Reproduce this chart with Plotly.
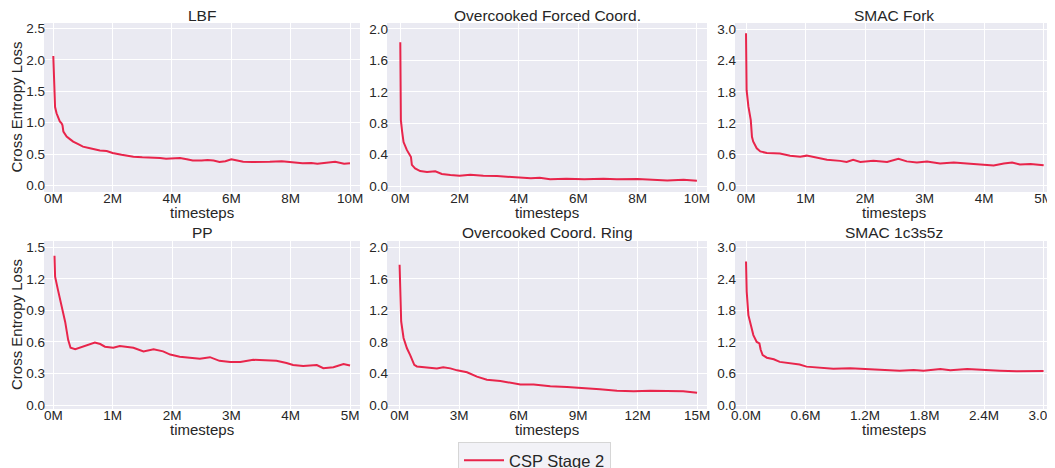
import plotly.graph_objects as go

# ---------------- data (x in millions of timesteps) ----------------
titles = ["LBF", "Overcooked Forced Coord.", "SMAC Fork",
          "PP", "Overcooked Coord. Ring", "SMAC 1c3s5z"]
series_name = "CSP Stage 2"
x_label = "timesteps"
y_label = "Cross Entropy Loss"

lbf_x = [0.0, 0.02, 0.03, 0.06, 0.11, 0.16, 0.22, 0.28, 0.31, 0.34, 0.45, 0.56, 0.67, 0.84, 1.0, 1.2, 1.4, 1.57, 1.8, 2.0,
         2.3, 2.7, 3.0, 3.37, 3.6, 3.8, 4.0, 4.27, 4.5, 4.7, 5.0, 5.2, 5.4, 5.6, 5.8, 6.0, 6.2, 6.4, 6.7, 7.0,
         7.3, 7.7, 8.0, 8.2, 8.4, 8.7, 8.9, 9.2, 9.5, 9.8, 10.0]
lbf_y = [2.06, 1.75, 1.41, 1.25, 1.15, 1.08, 1.02, 0.99, 0.96, 0.86, 0.78, 0.74, 0.70, 0.66, 0.62, 0.60, 0.58, 0.56, 0.55, 0.52,
         0.49, 0.46, 0.45, 0.45, 0.44, 0.43, 0.43, 0.44, 0.42, 0.40, 0.40, 0.41, 0.40, 0.375, 0.39, 0.42, 0.40, 0.38, 0.375, 0.375,
         0.38, 0.39, 0.375, 0.36, 0.355, 0.36, 0.35, 0.365, 0.38, 0.35, 0.355]

ofc_x = [0.0, 0.02, 0.06, 0.11, 0.22, 0.31, 0.36, 0.39, 0.5, 0.67, 0.9, 1.18, 1.4, 1.69, 2.0, 2.36, 2.8, 3.26, 3.6, 3.9,
         4.4, 4.7, 5.05, 5.6, 6.2, 6.85, 7.3, 8.0, 8.4, 9.0, 9.55, 10.0]
ofc_y = [1.83, 0.84, 0.70, 0.56, 0.46, 0.39, 0.37, 0.27, 0.225, 0.19, 0.18, 0.187, 0.153, 0.14, 0.13, 0.145, 0.13, 0.127, 0.12, 0.11,
         0.098, 0.106, 0.085, 0.093, 0.085, 0.093, 0.085, 0.09, 0.08, 0.072, 0.08, 0.068]

sf_x = [0.0, 0.01, 0.04, 0.08, 0.1, 0.12, 0.18, 0.24, 0.35, 0.57, 0.74, 0.91, 1.02, 1.13, 1.36, 1.58, 1.69, 1.8, 1.92, 2.14,
        2.37, 2.56, 2.7, 2.87, 3.04, 3.26, 3.49, 3.71, 3.93, 4.16, 4.33, 4.47, 4.6, 4.78, 5.0]
sf_y = [2.92, 1.83, 1.52, 1.26, 0.94, 0.85, 0.72, 0.66, 0.63, 0.62, 0.58, 0.56, 0.58, 0.55, 0.50, 0.48, 0.46, 0.50, 0.46, 0.48,
        0.46, 0.52, 0.47, 0.45, 0.47, 0.43, 0.45, 0.43, 0.41, 0.39, 0.43, 0.45, 0.41, 0.42, 0.395]

pp_x = [0.02, 0.03, 0.08, 0.14, 0.2, 0.25, 0.29, 0.37, 0.45, 0.56, 0.7, 0.79, 0.87, 1.01, 1.12, 1.35, 1.52, 1.69, 1.85, 1.97,
        2.13, 2.3, 2.47, 2.64, 2.8, 2.98, 3.15, 3.37, 3.6, 3.76, 3.93, 4.04, 4.21, 4.44, 4.55, 4.72, 4.89, 5.0]
pp_y = [1.42, 1.22, 1.09, 0.95, 0.79, 0.62, 0.545, 0.53, 0.545, 0.57, 0.595, 0.58, 0.555, 0.545, 0.56, 0.545, 0.51, 0.53, 0.51, 0.48,
        0.46, 0.45, 0.44, 0.455, 0.42, 0.41, 0.41, 0.43, 0.42, 0.42, 0.40, 0.38, 0.37, 0.38, 0.35, 0.36, 0.39, 0.375]

ocr_x = [0.0, 0.03, 0.08, 0.2, 0.37, 0.54, 0.62, 0.74, 0.87, 1.38, 1.88, 2.2, 2.56, 2.9, 3.4, 3.9, 4.4, 5.08, 5.58, 6.09,
         6.76, 7.6, 8.44, 9.28, 10.1, 10.96, 11.8, 12.65, 13.5, 14.3, 15.0]
ocr_y = [1.78, 1.35, 1.06, 0.85, 0.72, 0.63, 0.59, 0.51, 0.49, 0.48, 0.465, 0.48, 0.465, 0.44, 0.415, 0.36, 0.32, 0.305, 0.285, 0.26,
         0.26, 0.24, 0.23, 0.21, 0.20, 0.18, 0.175, 0.18, 0.18, 0.175, 0.155]

s1_x = [0.0, 0.007, 0.024, 0.047, 0.074, 0.108, 0.135, 0.148, 0.168, 0.21, 0.28, 0.34, 0.44, 0.54, 0.61, 0.71, 0.88, 1.05, 1.22, 1.39,
        1.55, 1.69, 1.79, 1.96, 2.06, 2.23, 2.39, 2.56, 2.73, 2.9, 3.0]
s1_y = [2.73, 2.16, 1.71, 1.52, 1.33, 1.20, 1.17, 1.05, 0.95, 0.90, 0.87, 0.82, 0.79, 0.77, 0.73, 0.71, 0.69, 0.70, 0.685, 0.665,
        0.653, 0.665, 0.653, 0.685, 0.66, 0.685, 0.665, 0.653, 0.64, 0.647, 0.647]

xs = [lbf_x, ofc_x, sf_x, pp_x, ocr_x, s1_x]
ys = [lbf_y, ofc_y, sf_y, pp_y, ocr_y, s1_y]

# axis settings per panel
x_ranges = [(-0.313, 10.337), (-0.448, 10.34), (-0.185, 5.14),
            (-0.157, 5.168), (-0.635, 15.5), (-0.111, 3.085)]
x_dticks = [2, 2, 1, 1, 3, 0.6]
x_formats = ["d", "d", "d", "d", "d", ".1f"]
y_ranges = [(-0.1, 2.584), (-0.076, 2.076), (-0.115, 3.115),
            (-0.038, 1.56), (-0.05, 2.08), (-0.076, 3.12)]
y_dticks = [0.5, 0.4, 0.6, 0.3, 0.4, 0.6]

# ---------------- layout geometry (page pixels) ----------------
PAGE_W, PAGE_H = 1055, 468
OFF = 8                      # default body margin of the html page
W, H = PAGE_W - OFF, PAGE_H - OFF
cols_px = [(44, 360), (387, 707), (735, 1052)]
rows_px = [(23, 192), (241, 409)]


def px_x(p):
    return (p - OFF) / W


def px_y(p):
    return 1 - (p - OFF) / H


LINE = "#e8254b"
TXT = "#262626"
FONT = "Liberation Sans, Arial, sans-serif"
TICK = 13.5

fig = go.Figure()
layout = dict(
    width=W, height=H,
    margin=dict(l=0, r=0, t=0, b=0, autoexpand=False),
    paper_bgcolor="white",
    plot_bgcolor="#eaeaf2",
    font=dict(family=FONT, color=TXT, size=12),
    showlegend=True,
    legend=dict(x=px_x(534.5), xanchor="center", y=px_y(442), yanchor="top",
                bgcolor="rgba(242,242,247,1)", bordercolor="#d6d6d6", borderwidth=1,
                font=dict(size=16.5, color=TXT), itemwidth=40),
)

annotations = []
for i in range(6):
    r, c = divmod(i, 3)
    n = "" if i == 0 else str(i + 1)
    x0, x1 = cols_px[c]
    y0, y1 = rows_px[r]
    layout[f"xaxis{n}"] = dict(
        domain=[px_x(x0), px_x(x1)], anchor=f"y{n}", range=list(x_ranges[i]),
        dtick=x_dticks[i], tick0=0, tickformat=x_formats[i], ticksuffix="M",
        showgrid=True, gridcolor="white", gridwidth=1.3, zeroline=False,
        showline=False, ticks="", tickfont=dict(size=TICK, color=TXT),
        automargin=False, ticklabelstandoff=-4, ticklabeloverflow="allow",
    )
    layout[f"yaxis{n}"] = dict(
        domain=[px_y(y1), px_y(y0)], anchor=f"x{n}", range=list(y_ranges[i]),
        dtick=y_dticks[i], tick0=0, tickformat=".1f",
        showgrid=True, gridcolor="white", gridwidth=1.3, zeroline=False,
        showline=False, ticks="", tickfont=dict(size=TICK, color=TXT),
        automargin=False, ticklabelstandoff=-2, ticklabeloverflow="allow",
    )
    annotations.append(dict(
        text=titles[i], x=px_x((x0 + x1) / 2), y=px_y(15 if r == 0 else 233),
        xref="paper", yref="paper", xanchor="center", yanchor="middle",
        showarrow=False, font=dict(size=15.5, color=TXT)))
    annotations.append(dict(
        text=x_label, x=px_x((x0 + x1) / 2), y=px_y(y1 + 20),
        xref="paper", yref="paper", xanchor="center", yanchor="middle",
        showarrow=False, font=dict(size=15, color=TXT)))
    if c == 0:
        annotations.append(dict(
            text=y_label, x=px_x(16), y=px_y((y0 + y1) / 2), textangle=-90,
            xref="paper", yref="paper", xanchor="center", yanchor="middle",
            showarrow=False, font=dict(size=15, color=TXT)))
    fig.add_trace(go.Scatter(
        x=xs[i], y=ys[i], mode="lines", name=series_name,
        line=dict(color=LINE, width=2), showlegend=(i == 0),
        xaxis=f"x{n}", yaxis=f"y{n}"))

layout["annotations"] = annotations
fig.update_layout(**layout)
fig.write_html("out.html")
